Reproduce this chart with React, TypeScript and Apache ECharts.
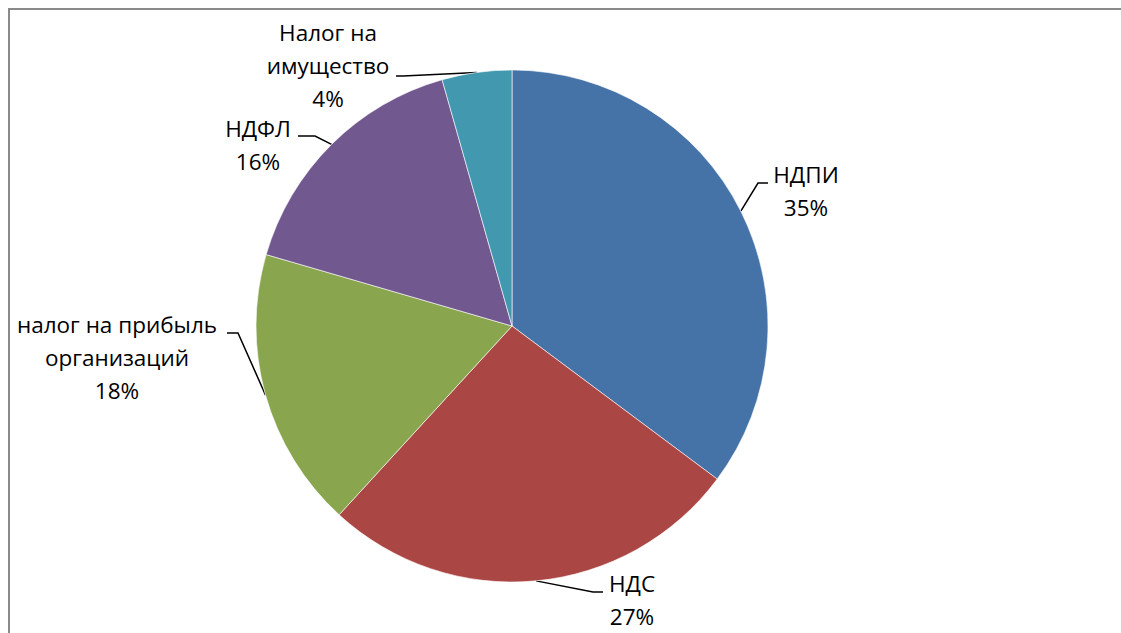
import React, { useEffect, useRef } from "react";
import * as echarts from "echarts";

const categories = ["НДПИ", "НДС", "налог на прибыль\nорганизаций", "НДФЛ", "Налог на\nимущество"];
const shares = [35.2, 26.6, 17.7, 16.1, 4.4];
const colors = ["#4572A7", "#AA4643", "#89A54E", "#71588F", "#4198AF"];

// label placement in chart pixels: block centre, leader bend and leader end
const LABEL_LAYOUT = [
  { x: 798, y: 183, bend: [750, 175], end: [760, 175] },
  { x: 624, y: 592, bend: [585, 584], end: [595, 584] },
  { x: 109, y: 349, bend: [230, 325], end: [219, 325] },
  { x: 250, y: 137, bend: [307, 128], end: [290, 128] },
  { x: 320, y: 57, bend: [395, 68], end: [388, 68] },
];

const FONT = "'Open Sans', 'Noto Sans', sans-serif";

export default function App() {
  const ref = useRef<HTMLDivElement>(null);
  useEffect(() => {
    if (!ref.current) return;
    const chart = echarts.init(ref.current, undefined, { renderer: "svg" });
    chart.setOption({
      animation: false,
      backgroundColor: "#ffffff",
      series: [
        {
          type: "pie",
          center: [504, 318],
          radius: 256,
          startAngle: 90,
          clockwise: true,
          percentPrecision: 0,
          avoidLabelOverlap: false,
          data: categories.map((name, i) => ({
            name,
            value: shares[i],
            itemStyle: { color: colors[i] },
          })),
          itemStyle: { borderColor: "rgba(255,255,255,0.6)", borderWidth: 1 },
          label: {
            show: true,
            position: "outside",
            formatter: "{b}\n{d}%",
            fontFamily: FONT,
            fontSize: 22.5,
            lineHeight: 33,
            color: "#000000",
            align: "center",
          },
          labelLine: {
            show: true,
            length: 15,
            length2: 10,
            lineStyle: { color: "#000000", width: 1.5 },
          },
          labelLayout: (params: any) => {
            const L = LABEL_LAYOUT[params.dataIndex];
            const p0 = params.labelLinePoints && params.labelLinePoints[0];
            const out: any = { x: L.x, y: L.y, align: "center", verticalAlign: "middle" };
            if (p0) out.labelLinePoints = [[p0[0], p0[1]], L.bend, L.end];
            return out;
          },
        },
      ],
    });
    return () => chart.dispose();
  }, []);
  return (
    <div style={{ position: "fixed", left: 8, top: 8, width: 1113, height: 625, overflow: "hidden" }}>
      <div ref={ref} style={{ width: 1113, height: 625 }} />
      <div
        style={{
          position: "absolute",
          left: 0,
          top: 0,
          width: 1113,
          height: 625,
          boxSizing: "border-box",
          borderLeft: "2px solid #8a8a8a",
          borderTop: "2px solid #8a8a8a",
          pointerEvents: "none",
        }}
      />
    </div>
  );
}
